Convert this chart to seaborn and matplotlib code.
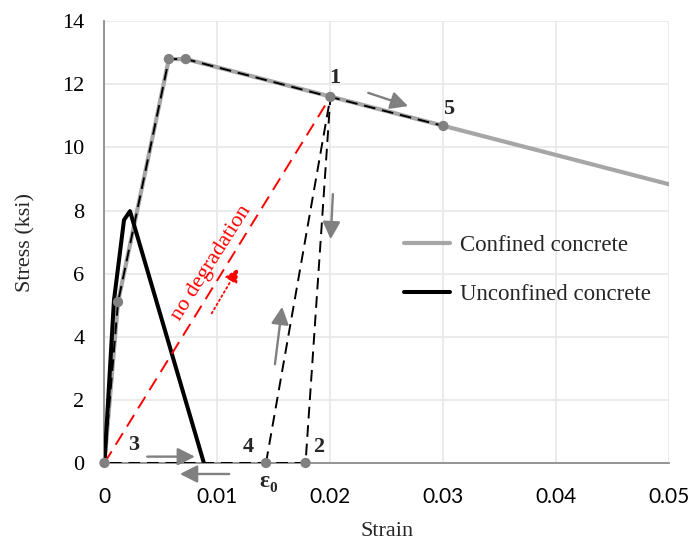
import numpy as np
import pandas as pd
import matplotlib
matplotlib.use("Agg")
import matplotlib.pyplot as plt
import seaborn as sns

# ---- data ----
conf_strain = [0.0, 0.0012, 0.0057, 0.0072, 0.05]
conf_stress = [0.0, 5.1, 12.8, 12.8, 8.83]
unconf_strain = [0.0, 0.00084, 0.00173, 0.00226, 0.0088]
unconf_stress = [0.0, 5.15, 7.7, 7.98, 0.0]
cyc_a_strain = [0.0, 0.0012, 0.0057, 0.0072, 0.02, 0.0178, 0.0]
cyc_a_stress = [0.0, 5.1, 12.8, 12.8, 11.6, 0.0, 0.0]
cyc_b_strain = [0.0143, 0.02, 0.03]
cyc_b_stress = [0.0, 11.6, 10.68]
nodeg_strain = [0.0, 0.02]
nodeg_stress = [0.0, 11.6]
pt_strain = [0.0, 0.0012, 0.0057, 0.0072, 0.02, 0.03, 0.0143, 0.0178]
pt_stress = [0.0, 5.1, 12.8, 12.8, 11.6, 10.68, 0.0, 0.0]
pt_labels = ["1", "5", "3", "4", "2"]
pt_label_x = [0.02037, 0.03043, 0.00255, 0.01273, 0.01892]
pt_label_y = [12.19, 11.23, 0.57, 0.52, 0.52]
x_ticks = [0, 0.01, 0.02, 0.03, 0.04, 0.05]
x_ticklabels = ["0", "0.01", "0.02", "0.03", "0.04", "0.05"]
y_ticks = [0, 2, 4, 6, 8, 10, 12, 14]

sns.set_theme(style="white")
plt.rcParams["font.family"] = ["Liberation Serif", "DejaVu Serif"]

fig = plt.figure(figsize=(6.9, 5.44), dpi=100)
ax = fig.add_axes([0.1514, 0.149, 0.8186, 0.812])

SERIF = "Liberation Serif"
GRAY = "#808080"

ax.grid(True, color="#e9e9e9", linewidth=1.3, zorder=0)
ax.set_axisbelow(True)

sns.lineplot(x=conf_strain, y=conf_stress, sort=False, estimator=None, ax=ax,
             color="#a6a6a6", linewidth=3.0, label="Confined concrete", zorder=2)
sns.lineplot(x=unconf_strain, y=unconf_stress, sort=False, estimator=None, ax=ax,
             color="black", linewidth=2.9, label="Unconfined concrete", zorder=3)
sns.lineplot(x=nodeg_strain, y=nodeg_stress, sort=False, estimator=None, ax=ax,
             color="red", linewidth=1.4, zorder=4, legend=False)
ax.lines[-1].set_dashes([7, 4])
sns.lineplot(x=cyc_a_strain, y=cyc_a_stress, sort=False, estimator=None, ax=ax,
             color="black", linewidth=1.4, zorder=5, legend=False)
ax.lines[-1].set_dashes([6, 3.5])
sns.lineplot(x=cyc_b_strain, y=cyc_b_stress, sort=False, estimator=None, ax=ax,
             color="black", linewidth=1.4, zorder=5, legend=False)
ax.lines[-1].set_dashes([6, 3.5])
sns.scatterplot(x=pt_strain, y=pt_stress, ax=ax, color=GRAY, s=55,
                edgecolor="none", zorder=6, clip_on=False, legend=False)

# gray direction arrows
arrows = [((0.00379, 0.20), (0.00801, 0.20)),
          ((0.01104, -0.35), (0.00668, -0.35)),
          ((0.02335, 11.73), (0.02688, 11.31)),
          ((0.02022, 8.52), (0.02002, 7.09)),
          ((0.01509, 3.13), (0.01573, 4.95))]
for (x0, y0), (x1, y1) in arrows:
    ax.annotate("", xy=(x1, y1), xytext=(x0, y0), annotation_clip=False,
                arrowprops=dict(arrowstyle="-|>,head_length=0.75,head_width=0.38",
                                color=GRAY, lw=1.7, shrinkA=0, shrinkB=0,
                                mutation_scale=14), zorder=7)
# red dotted arrow
ax.annotate("", xy=(0.01184, 6.17), xytext=(0.00949, 4.74),
            arrowprops=dict(arrowstyle="-|>,head_length=0.7,head_width=0.35",
                            color="red", lw=1.3, linestyle=":", shrinkA=0,
                            shrinkB=0, mutation_scale=12), zorder=7)
ax.text(0.00947, 6.34, "no degradation", color="red", fontsize=16,
        family=SERIF, rotation=57.5, ha="center", va="center",
        rotation_mode="anchor", zorder=8)

for lab, lx, ly in zip(pt_labels, pt_label_x, pt_label_y):
    ax.text(lx, ly, lab, fontsize=16, fontweight="bold", family=SERIF,
            ha="center", va="center", zorder=8)
ax.text(0.01412, -0.59, "ε", fontsize=17, fontweight="bold", family=SERIF,
        ha="center", va="center", clip_on=False)
ax.text(0.01496, -0.80, "0", fontsize=11, fontweight="bold", family=SERIF,
        ha="center", va="center", clip_on=False)

ax.set_xlim(0, 0.05)
ax.set_ylim(0, 14)
ax.set_xticks(x_ticks)
ax.set_xticklabels(x_ticklabels, family="Lato", fontsize=15)
ax.set_yticks(y_ticks)
ax.set_yticklabels([str(v) for v in y_ticks], family=SERIF, fontsize=16)
ax.tick_params(axis="both", direction="out", length=5.5, width=1.2,
               color="#8c8c8c", labelcolor="black")
ax.tick_params(axis="x", pad=12)
ax.tick_params(axis="y", pad=9)

for s in ["top", "right"]:
    ax.spines[s].set_visible(False)
for s in ["left", "bottom"]:
    ax.spines[s].set_color("#8c8c8c")
    ax.spines[s].set_linewidth(1.3)

ax.set_xlabel("Strain", family=SERIF, fontsize=16, va="center")
ax.set_ylabel("Stress (ksi)", family=SERIF, fontsize=16, va="center")
ax.xaxis.set_label_coords(0.5, -0.156)
ax.yaxis.set_label_coords(-0.139, 0.5)

handles, labels = ax.get_legend_handles_labels()
leg = ax.legend(handles[:2], labels[:2], loc="center left",
                bbox_to_anchor=(0.53, 0.437), frameon=False,
                prop={"family": SERIF, "size": 16.5}, handlelength=2.0,
                handletextpad=0.45, labelspacing=1.2, borderpad=0,
                borderaxespad=0)

fig.savefig("out.png", dpi=100)
